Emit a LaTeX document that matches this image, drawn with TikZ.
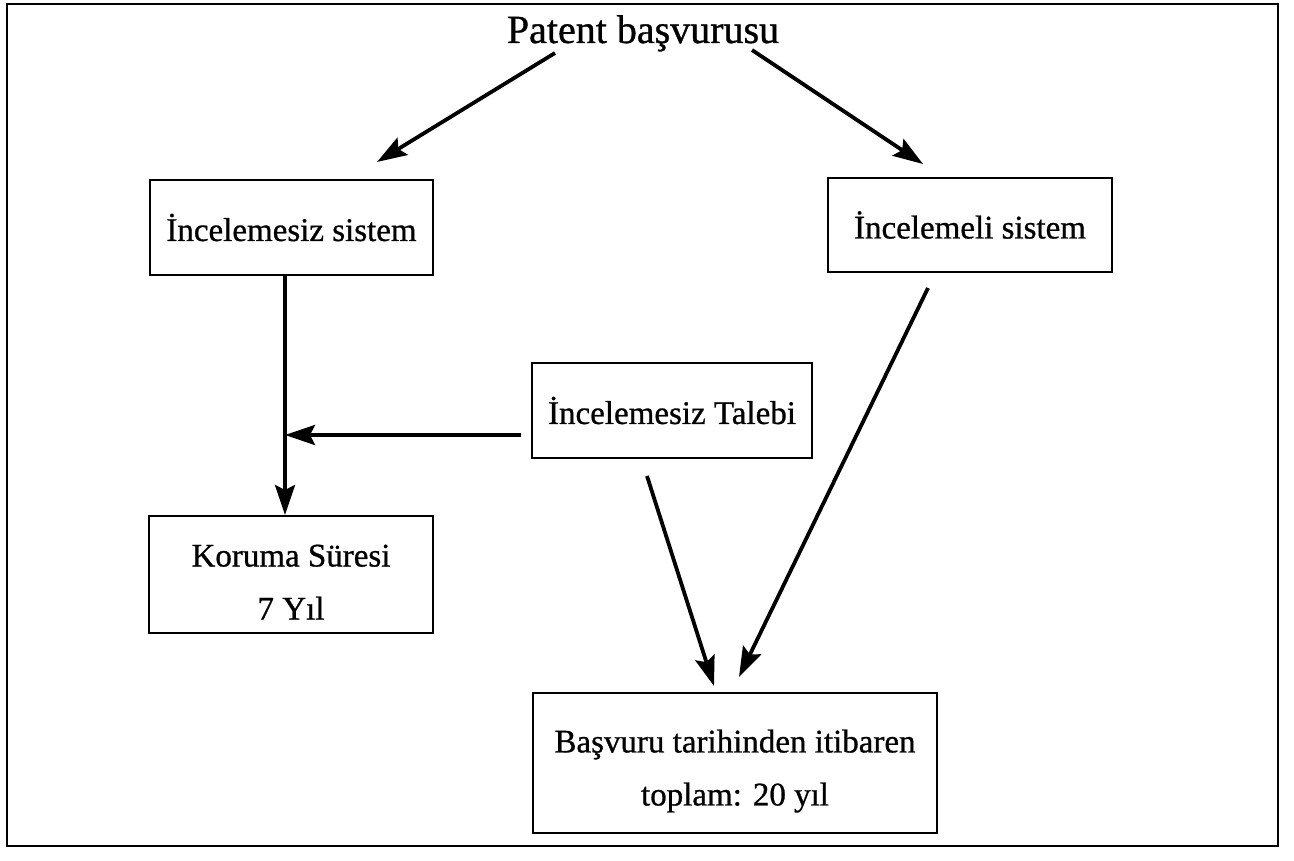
\documentclass[tikz,border=0pt]{standalone}
\usepackage{fontspec}
\setmainfont{Liberation Serif}[FakeBold=0.8]
\usetikzlibrary{arrows.meta,calc}

\tikzset{
  box/.style={draw, line width=2pt, inner sep=0pt, align=center,
    font=\fontsize{33}{53}\selectfont},
  arr/.style={line width=3.8pt, -{Stealth[length=30pt,width=20pt,inset=5pt]}},
  frame/.style={line width=2.8pt},
}

\begin{document}
\begin{tikzpicture}[x=1pt,y=-1pt]
  \useasboundingbox (0,0) rectangle (1294,861);
  \draw[frame] (7,4) rectangle (1278,846);

  % title and the five boxes
  \node[anchor=base, font=\fontsize{40}{48}\selectfont] (app) at (643,43) {Patent başvurusu};
  \node[box, minimum width=283pt, minimum height=95pt] (sys1) at (291.5,227.5) {İncelemesiz sistem};
  \node[box, minimum width=284pt, minimum height=94pt] (sys2) at (970,225) {İncelemeli sistem};
  \node[box, minimum width=280pt, minimum height=95pt] (talep) at (672,410.5) {İncelemesiz Talebi};
  \node[box, minimum width=284pt, minimum height=117pt] (kor) at (291,574.5)
    {\rule{0pt}{37pt}Koruma Süresi\\7 Yıl};
  \node[box, minimum width=404pt, minimum height=140pt] (tot) at (735,763)
    {\rule{0pt}{39pt}Başvuru tarihinden itibaren\\toplam: 20 yıl};

  % arrow end points, placed off the node borders
  \coordinate (appL) at ($(app.base)+(-88,10)$);
  \coordinate (appR) at ($(app.base)+(109,7)$);
  \coordinate (sys1in) at ($(sys1.north)+(85.5,-17)$);
  \coordinate (sys2in) at ($(sys2.north)+(-47,-13)$);
  \coordinate (vtop) at ($(sys1.south)+(-6.5,0)$);
  \coordinate (vbot) at ($(kor.north)+(-6,0)$);
  \coordinate (tout) at ($(talep.west)+(-10,24.5)$);
  \coordinate (tjoin) at (tout -| vtop);
  \coordinate (tdown) at ($(talep.south)+(-25,17)$);
  \coordinate (s2down) at ($(sys2.south)+(-42,15)$);
  \coordinate (totA) at ($(tot.north)+(-21,-6)$);
  \coordinate (totB) at ($(tot.north)+(4,-15)$);

  \draw[arr] (appL) -- (sys1in);
  \draw[arr] (appR) -- (sys2in);
  \draw[arr] (vtop) -- (vbot);
  \draw[arr] (tout) -- (tjoin);
  \draw[arr] (tdown) -- (totA);
  \draw[arr] (s2down) -- (totB);
\end{tikzpicture}
\end{document}
